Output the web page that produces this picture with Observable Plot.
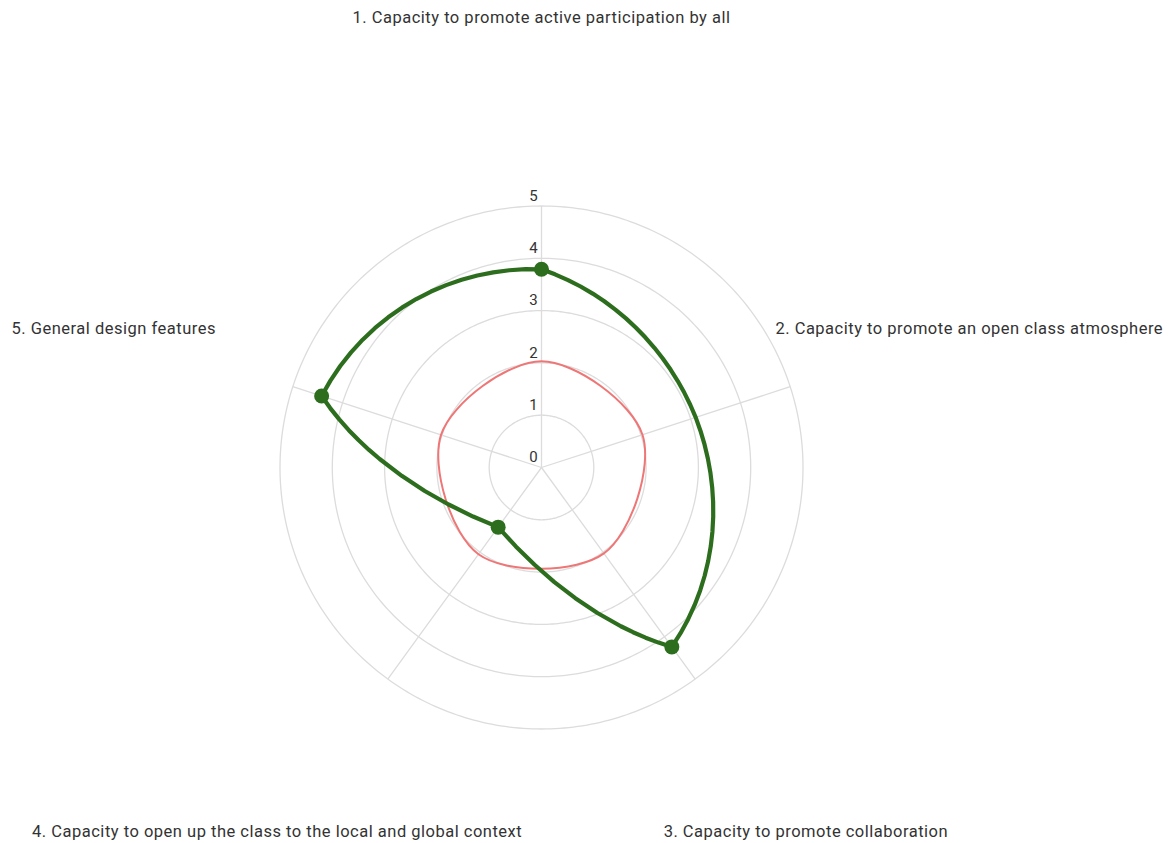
<!DOCTYPE html>
<html>
<head>
<meta charset="utf-8">
<script src="https://cdn.jsdelivr.net/npm/d3@7"></script>
<script src="https://cdn.jsdelivr.net/npm/@observablehq/plot@0.6"></script>
<style>
  html, body { margin: 0; padding: 0; background: #fff; }
  #chart svg { display: block; }
  .axis-label text { letter-spacing: 0.5px; }
</style>
</head>
<body>
<div id="chart"></div>
<script>
// ---- data ----
const axisLabels = [
  "1. Capacity to promote active participation by all",
  "2. Capacity to promote an open class atmosphere",
  "3. Capacity to promote collaboration",
  "4. Capacity to open up the class to the local and global context",
  "5. General design features"
];
const greenValues = [3.79, 3.1, 4.24, 1.41, 4.42];
const greenMarkers = [true, false, true, true, true];
const redValues = [2.03, 2.03, 2.03, 2.05, 2.02];
const tickValues = [0, 1, 2, 3, 4, 5];
const gridValues = [1, 2, 3, 4, 5];

// ---- layout constants ----
const K = 20;              // degrees of colatitude per unit
const labelRadius = 8.6;   // units from centre for the axis labels
const maxValue = d3.max(tickValues);
const n = axisLabels.length;
const lon = (i) => 180 - (360 / n) * i;
const lat = (v) => 90 - K * v;

const rows = (values) => values.map((v, i) => ({i, lon: lon(i), lat: lat(v)}));
const closedRows = (values) => [...rows(values), rows(values)[0]];

const greenRows = closedRows(greenValues);
const redRows = rows(redValues);
const greenDots = rows(greenValues).filter((d) => greenMarkers[d.i]);

const ring = (r) => ({
  type: "LineString",
  coordinates: d3.geoCircle().center([0, 90]).radius(K * r).precision(1)().coordinates[0]
});

const rMax = K * maxValue;
const domain = {
  type: "MultiPoint",
  coordinates: [0, 90, 180, -90].map((l) => [l, 90 - rMax])
};

const chart = Plot.plot({
  width: 1173,
  height: 843,
  marginLeft: 279.5,
  marginRight: 370.5,
  marginTop: 205.5,
  marginBottom: 114.5,
  projection: {
    type: "azimuthal-equidistant",
    rotate: [0, -90],
    domain,
    clip: false
  },
  style: {fontFamily: "Roboto, 'Noto Sans', sans-serif", fontSize: "15px", background: "white"},
  marks: [
    Plot.geo(gridValues, {geometry: ring, stroke: "#dcdcdc", strokeWidth: 1.3, fill: "none"}),
    Plot.link(axisLabels.map((_, i) => i), {
      x1: (i) => lon(i), y1: lat(maxValue), x2: (i) => lon(i), y2: 90,
      stroke: "#dcdcdc", strokeWidth: 1.3
    }),
    Plot.text(tickValues, {
      x: lon(0), y: (v) => lat(v), text: (v) => String(v),
      dx: -8, dy: -10, fill: "#333", fontSize: 15
    }),
    Plot.line(redRows, {x: "lon", y: "lat", stroke: "#ef7676", strokeWidth: 2, curve: "cardinal-closed"}),
    Plot.line(greenRows, {x: "lon", y: "lat", stroke: "#2d6e1e", strokeWidth: 4.2, strokeLinejoin: "round"}),
    Plot.dot(greenDots, {x: "lon", y: "lat", r: 7.5, fill: "#2d6e1e", stroke: "none"}),
    Plot.text(axisLabels, {
      x: (d, i) => lon(i), y: lat(labelRadius), text: (d) => d,
      textAnchor: "middle", fill: "#333", fontSize: 16.5, className: "axis-label"
    })
  ]
});

document.getElementById("chart").appendChild(chart);
</script>
</body>
</html>
